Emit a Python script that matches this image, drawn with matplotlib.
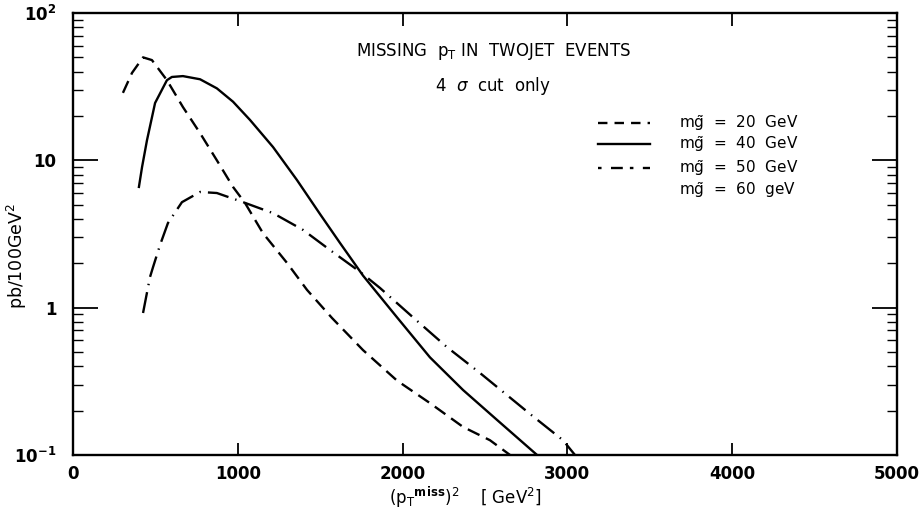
import numpy as np
import matplotlib.pyplot as plt
import matplotlib.transforms as mtransforms
from matplotlib.ticker import FixedLocator, LogLocator, NullFormatter

# missing pT^2 spectra in two-jet events (pb / 100 GeV^2)
x_m20 = [303, 358, 425, 479, 570, 667, 771, 873, 971, 1044, 1153, 1299, 1420, 1572,
         1760, 1966, 2166, 2367, 2530, 2652]
y_m20 = [28.7, 39.2, 50, 47.9, 35, 23, 15.3, 10, 6.6, 5.13, 3.2, 2.01, 1.32, 0.85,
         0.515, 0.32, 0.225, 0.155, 0.126, 0.10]

x_m40 = [400, 419, 449, 498, 570, 600, 667, 771, 873, 971, 1074, 1214, 1359, 1500, 1620,
         1760, 1966, 2166, 2367, 2573, 2816]
y_m40 = [6.6, 9.0, 13.7, 24.5, 35, 36.8, 37.3, 35.5, 30.8, 25, 18.8, 12.3, 7.35, 4.3, 2.75,
         1.65, 0.86, 0.46, 0.276, 0.173, 0.10]

x_m50 = [425, 467, 486, 528, 576, 661, 771, 873, 1032, 1214, 1396, 1560, 1742, 1863,
         2063, 2269, 2470, 2773, 2973, 3046]
y_m50 = [0.92, 1.61, 1.89, 2.66, 3.75, 5.2, 6.1, 6.0, 5.2, 4.38, 3.37, 2.46, 1.75, 1.36,
         0.86, 0.54, 0.36, 0.19, 0.126, 0.10]

legend_labels = ["20 GeV", "40 GeV", "50 GeV", "60 geV"]
x_ticks = [0, 1000, 2000, 3000, 4000, 5000]

plt.rcParams['font.family'] = ['DejaVu Sans']

fig = plt.figure(figsize=(9.22, 5.21), dpi=100)
ax = fig.add_axes([73 / 922, 1 - 455 / 521, 824 / 922, 442 / 521])

lw = 1.7
dash_20 = (5.5, 3)
dash_50 = (9, 3, 0.6, 3)
ax.plot(x_m20, y_m20, color='black', lw=lw, dashes=dash_20)
ax.plot(x_m40, y_m40, color='black', lw=lw)
ax.plot(x_m50, y_m50, color='black', lw=lw, dashes=dash_50)

ax.set_yscale('log')
ax.set_xlim(0, 5000)
ax.set_ylim(0.1, 100)

for s in ax.spines.values():
    s.set_linewidth(1.7)

ax.xaxis.set_major_locator(FixedLocator(x_ticks))
ax.yaxis.set_minor_locator(LogLocator(base=10, subs=np.arange(2, 10), numticks=20))
ax.yaxis.set_minor_formatter(NullFormatter())
ax.set_yticks([0.1, 1, 10, 100])
ax.set_yticklabels([r'$\mathbf{10^{-1}}$', '1', '10', r'$\mathbf{10^{2}}$'])
ax.set_xticklabels([str(t) for t in x_ticks])

ax.tick_params(axis='x', which='major', direction='in', length=9, width=1.3,
               top=True, pad=7, labelsize=12)
ax.tick_params(axis='y', which='major', direction='in', length=18, width=1.3,
               right=True, pad=12, labelsize=12)
ax.tick_params(axis='y', which='minor', direction='in', length=7, width=1.0, right=True)
for lab in ax.get_xticklabels() + ax.get_yticklabels():
    lab.set_fontweight('bold')

ax.set_xlabel(r'$( \mathrm{p_T}^{\mathbf{miss}})^2$    [ GeV$^2$]', fontsize=12)
ax.xaxis.set_label_coords(0.476, -0.068)
ax.set_ylabel(r'pb/100GeV$^2$', fontsize=12.5)
ax.yaxis.set_label_coords(-0.054, 0.45)

ax.text(0.51, 0.912, r'MISSING  p$_\mathrm{T}$ IN  TWOJET  EVENTS', transform=ax.transAxes,
        ha='center', va='center', fontsize=12)
ax.text(0.51, 0.834, r'4  $\sigma$  cut  only', transform=ax.transAxes,
        ha='center', va='center', fontsize=12)

# hand-drawn style key: x in data units, rows in axes fraction
key_tr = mtransforms.blended_transform_factory(ax.transData, ax.transAxes)
key_rows = [0.751, 0.704, 0.649, 0.600]
styles = [dict(dashes=(4, 3)), dict(), dict(dashes=(1.5, 4, 5, 3)), None]
for yk, lab, st in zip(key_rows, legend_labels, styles):
    if st is not None:
        ax.plot([3186, 3500], [yk, yk], color='black', lw=lw, transform=key_tr, **st)
    ax.text(3677, yk, r'm$\tilde{\mathrm{g}}$  =  ' + lab.replace(' ', '  '),
            transform=key_tr, ha='left', va='center', fontsize=11)

fig.savefig('out.png', dpi=100)
